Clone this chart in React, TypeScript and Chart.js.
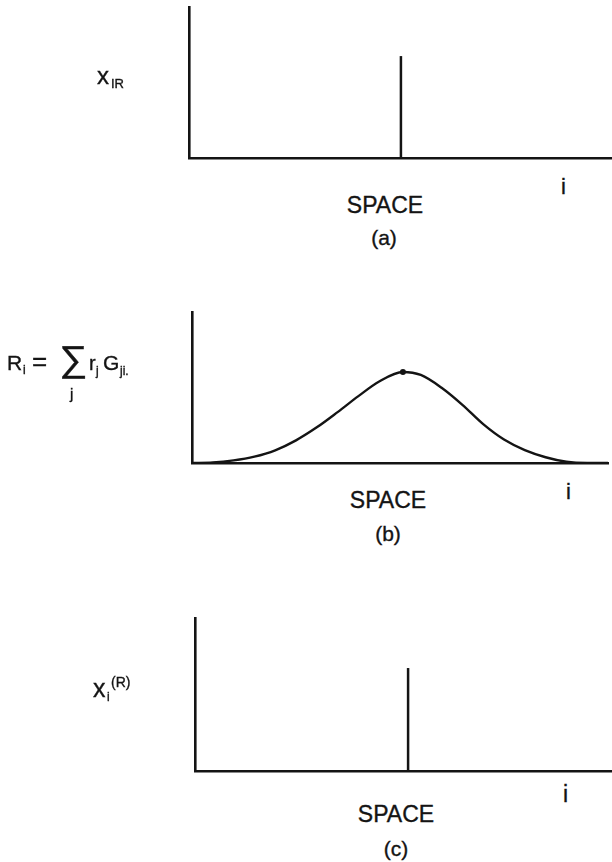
import { useEffect, useRef } from "react";
import type { ReactNode, CSSProperties } from "react";
import { Chart, registerables } from "chart.js";

Chart.register(...registerables);

const INK = "#141414";
const FONT = '"Liberation Sans", Arial, Helvetica, sans-serif';

// Shared axes: position in space (arbitrary units) and amplitude
const SPACE_MIN = 0;
const SPACE_MAX = 100;
const AMPLITUDE_MIN = 0;
const AMPLITUDE_MAX = 1;

// (a) single unit impulse x_IR
const IMPULSE_A_POSITION = 50.1;
const IMPULSE_A_HEIGHT = 0.675;

// (b) spread-out response R_i
const RESPONSE_SPACE = [0, 5, 10, 15, 20, 25, 30, 35, 40, 45, 50.7, 55, 60, 65, 70, 75, 80, 85, 90, 95, 100];
const RESPONSE_VALUE = [0, 0.003, 0.017, 0.042, 0.084, 0.15, 0.236, 0.337, 0.443, 0.54, 0.603, 0.583, 0.498, 0.385, 0.257, 0.155, 0.085, 0.038, 0.008, 0, 0];
const RESPONSE_PEAK_SPACE = 50.7;
const RESPONSE_PEAK_VALUE = 0.603;

// (c) recovered impulse x_i^(R)
const IMPULSE_C_POSITION = 51.1;
const IMPULSE_C_HEIGHT = 0.673;

type Pt = { x: number; y: number };

const spike = (pos: number, h: number) => ({
  data: [
    { x: pos, y: 0 },
    { x: pos, y: h },
  ] as Pt[],
  borderColor: INK,
  borderWidth: 2.5,
  pointRadius: 0,
  borderCapStyle: "butt" as const,
});

function AxisChart({
  axisLeft,
  top,
  baseline,
  datasets,
}: {
  axisLeft: number;
  top: number;
  baseline: number;
  datasets: any[];
}) {
  const ref = useRef<HTMLCanvasElement | null>(null);
  const pad = 6;
  const canvasTop = top - pad;
  const height = baseline - top + 2 * pad;

  useEffect(() => {
    const axis = (min: number, max: number) => ({
      type: "linear" as const,
      min,
      max,
      ticks: { display: false },
      grid: { display: true, drawOnChartArea: false, drawTicks: false },
      border: { display: true, color: INK, width: 2.6 },
    });
    const chart = new Chart(ref.current as HTMLCanvasElement, {
      type: "line",
      data: { datasets },
      options: {
        animation: false,
        responsive: false,
        maintainAspectRatio: false,
        events: [],
        layout: { padding: { left: axisLeft, right: 0, top: pad, bottom: pad } },
        plugins: { legend: { display: false }, tooltip: { enabled: false } },
        scales: {
          x: axis(SPACE_MIN, SPACE_MAX),
          y: axis(AMPLITUDE_MIN, AMPLITUDE_MAX),
        },
      },
    });
    return () => chart.destroy();
  }, []);

  return (
    <canvas
      ref={ref}
      width={612}
      height={height}
      style={{ position: "absolute", left: 0, top: canvasTop, width: 612, height }}
    />
  );
}

// Text placed by its baseline (Liberation Sans, line-height 1)
function Txt({
  x,
  baseline,
  size,
  center = false,
  children,
  style,
}: {
  x: number;
  baseline: number;
  size: number;
  center?: boolean;
  children: ReactNode;
  style?: CSSProperties;
}) {
  return (
    <div
      style={{
        position: "absolute",
        left: x,
        top: baseline - 0.8465 * size,
        fontFamily: FONT,
        fontSize: size,
        lineHeight: 1,
        color: INK,
        whiteSpace: "nowrap",
        WebkitTextStroke: `0.35px ${INK}`,
        transform: center ? "translateX(-50%)" : undefined,
        ...style,
      }}
    >
      {children}
    </div>
  );
}

export default function App() {
  return (
    <div
      style={{
        position: "absolute",
        left: 0,
        top: 0,
        width: 612,
        height: 862,
        background: "#ffffff",
        overflow: "hidden",
      }}
    >
      {/* (a) */}
      <AxisChart
        axisLeft={189}
        top={7}
        baseline={158}
        datasets={[spike(IMPULSE_A_POSITION, IMPULSE_A_HEIGHT)]}
      />
      <Txt x={97} baseline={84} size={24}>x</Txt>
      <Txt x={111} baseline={88} size={13}>IR</Txt>
      <Txt x={561} baseline={195} size={22}>i</Txt>
      <Txt x={385} baseline={213} size={23} center>SPACE</Txt>
      <Txt x={384} baseline={245} size={21} center>(a)</Txt>

      {/* (b) */}
      <AxisChart
        axisLeft={192}
        top={312}
        baseline={463}
        datasets={[
          {
            data: RESPONSE_SPACE.map((x, i) => ({ x, y: RESPONSE_VALUE[i] })),
            borderColor: INK,
            borderWidth: 2.4,
            pointRadius: 0,
            cubicInterpolationMode: "monotone",
          },
          {
            data: [{ x: RESPONSE_PEAK_SPACE, y: RESPONSE_PEAK_VALUE }],
            showLine: false,
            pointRadius: 3,
            pointBackgroundColor: INK,
            pointBorderWidth: 0,
          },
        ]}
      />
      <Txt x={7} baseline={370} size={21}>R</Txt>
      <Txt x={23} baseline={374} size={12}>i</Txt>
      <Txt x={32} baseline={370} size={26}>=</Txt>
      <Txt
        x={59}
        baseline={371}
        size={36}
        style={{ transform: "scaleX(1.1)", transformOrigin: "left center" }}
      >
        ∑
      </Txt>
      <Txt x={70} baseline={399} size={15}>j</Txt>
      <Txt x={89} baseline={370} size={20}>r</Txt>
      <Txt x={96} baseline={375} size={12}>j</Txt>
      <Txt x={103} baseline={370} size={21}>G</Txt>
      <Txt x={120} baseline={375} size={12}>ji.</Txt>
      <Txt x={566} baseline={500} size={22}>i</Txt>
      <Txt x={388} baseline={508} size={23} center>SPACE</Txt>
      <Txt x={388} baseline={541} size={21} center>(b)</Txt>

      {/* (c) */}
      <AxisChart
        axisLeft={195}
        top={618}
        baseline={771}
        datasets={[spike(IMPULSE_C_POSITION, IMPULSE_C_HEIGHT)]}
      />
      <Txt x={93} baseline={697} size={25}>x</Txt>
      <Txt x={107} baseline={701} size={12}>i</Txt>
      <Txt x={111} baseline={687} size={14}>(R)</Txt>
      <Txt x={563} baseline={802} size={23}>i</Txt>
      <Txt x={396} baseline={822} size={23} center>SPACE</Txt>
      <Txt x={396} baseline={856} size={21} center>(c)</Txt>
    </div>
  );
}
